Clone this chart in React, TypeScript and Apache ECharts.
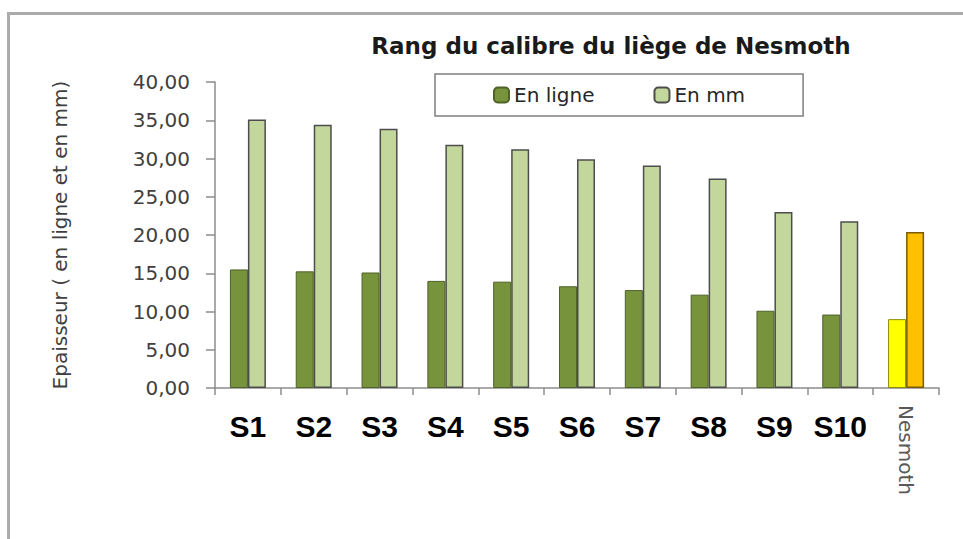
import React, { useEffect, useRef } from "react";
import * as echarts from "echarts";

const categories = ["S1", "S2", "S3", "S4", "S5", "S6", "S7", "S8", "S9", "S10", "Nesmoth"];
const enLigne = [15.5, 15.25, 15.1, 14.0, 13.9, 13.3, 12.8, 12.2, 10.1, 9.6, 9.0];
const enMm = [35.1, 34.4, 33.9, 31.8, 31.2, 29.9, 29.1, 27.4, 23.0, 21.8, 20.4];
const seriesNames = ["En ligne", "En mm"];
const highlightCategory = "Nesmoth";
const titleText = "Rang du calibre du liège de Nesmoth";
const yAxisName = "Epaisseur ( en ligne et en mm)";

export default function App() {
  const ref = useRef<HTMLDivElement>(null);
  useEffect(() => {
    const chart = echarts.init(ref.current!, null, { renderer: "svg" });
    const darkData = enLigne.map((v, i) =>
      categories[i] === highlightCategory
        ? { value: v, itemStyle: { color: "#FFFF00", borderColor: "#8c8c00" } }
        : v
    );
    const lightData = enMm.map((v, i) =>
      categories[i] === highlightCategory
        ? { value: v, itemStyle: { color: "#FFC000", borderColor: "#7a5c00" } }
        : v
    );
    chart.setOption({
      animation: false,
      backgroundColor: "#ffffff",
      title: {
        text: titleText,
        left: 606,
        textAlign: "center",
        top: 29,
        textStyle: { fontFamily: "DejaVu Sans", fontWeight: "bold", fontSize: 23, color: "#1a1a1a" },
      },
      legend: {
        left: 435,
        top: 74,
        padding: [11, 58, 11, 58],
        borderColor: "#7f7f7f",
        borderWidth: 1.5,
        itemWidth: 15,
        itemHeight: 15,
        itemGap: 59,
        textStyle: { fontFamily: "DejaVu Sans", fontSize: 20, color: "#262626" },
        data: seriesNames,
      },
      graphic: [
        {
          type: "rect",
          shape: { x: 8.5, y: 13.5, width: 1000, height: 600 },
          style: { fill: "none", stroke: "#ababab", lineWidth: 3 },
          silent: true,
        },
      ],
      grid: { left: 215, right: 24, top: 82, bottom: 151 },
      xAxis: [
        {
          type: "category",
          data: categories,
          axisLine: { lineStyle: { color: "#8c8c8c", width: 1.5 } },
          axisTick: { show: true, length: 7, lineStyle: { color: "#8c8c8c", width: 1.5 } },
          axisLabel: {
            margin: 23,
            fontFamily: "Liberation Sans Narrow, Arial Narrow, Liberation Sans",
            fontWeight: "bold",
            fontSize: 30,
            color: "#000",
            interval: 0,
            formatter: (v: string) => (v === highlightCategory ? "" : v),
          },
        },
        {
          type: "category",
          data: categories,
          position: "bottom",
          axisLine: { show: false },
          axisTick: { show: false },
          axisLabel: {
            margin: 17,
            rotate: -90,
            interval: 0,
            fontFamily: "DejaVu Sans",
            fontSize: 20,
            color: "#595959",
            formatter: (v: string) => (v === highlightCategory ? v : ""),
          },
        },
      ],
      yAxis: {
        type: "value",
        min: 0,
        max: 40,
        interval: 5,
        name: yAxisName,
        nameLocation: "middle",
        nameGap: 145,
        nameTextStyle: { fontFamily: "DejaVu Sans", fontSize: 20, color: "#404040" },
        axisLine: { show: true, lineStyle: { color: "#8c8c8c", width: 1.5 } },
        axisTick: { show: true, length: 9, lineStyle: { color: "#8c8c8c", width: 1.5 } },
        splitLine: { show: false },
        axisLabel: {
          margin: 25,
          fontFamily: "DejaVu Sans",
          fontSize: 20,
          color: "#404040",
          formatter: (v: number) => v.toFixed(2).replace(".", ","),
        },
      },
      series: [
        {
          name: seriesNames[0],
          type: "bar",
          data: darkData,
          barWidth: 18,
          barGap: "0%",
          itemStyle: { color: "#77933C", borderColor: "#4F6228", borderWidth: 1 },
        },
        {
          name: seriesNames[1],
          type: "bar",
          data: lightData,
          barWidth: 18,
          barGap: "0%",
          itemStyle: { color: "#C3D69B", borderColor: "#4d4d4d", borderWidth: 1.5 },
        },
      ],
    });
    return () => chart.dispose();
  }, []);
  return (
    <div
      ref={ref}
      style={{ position: "absolute", left: 0, top: 0, width: 963, height: 539, background: "#fff" }}
    />
  );
}
